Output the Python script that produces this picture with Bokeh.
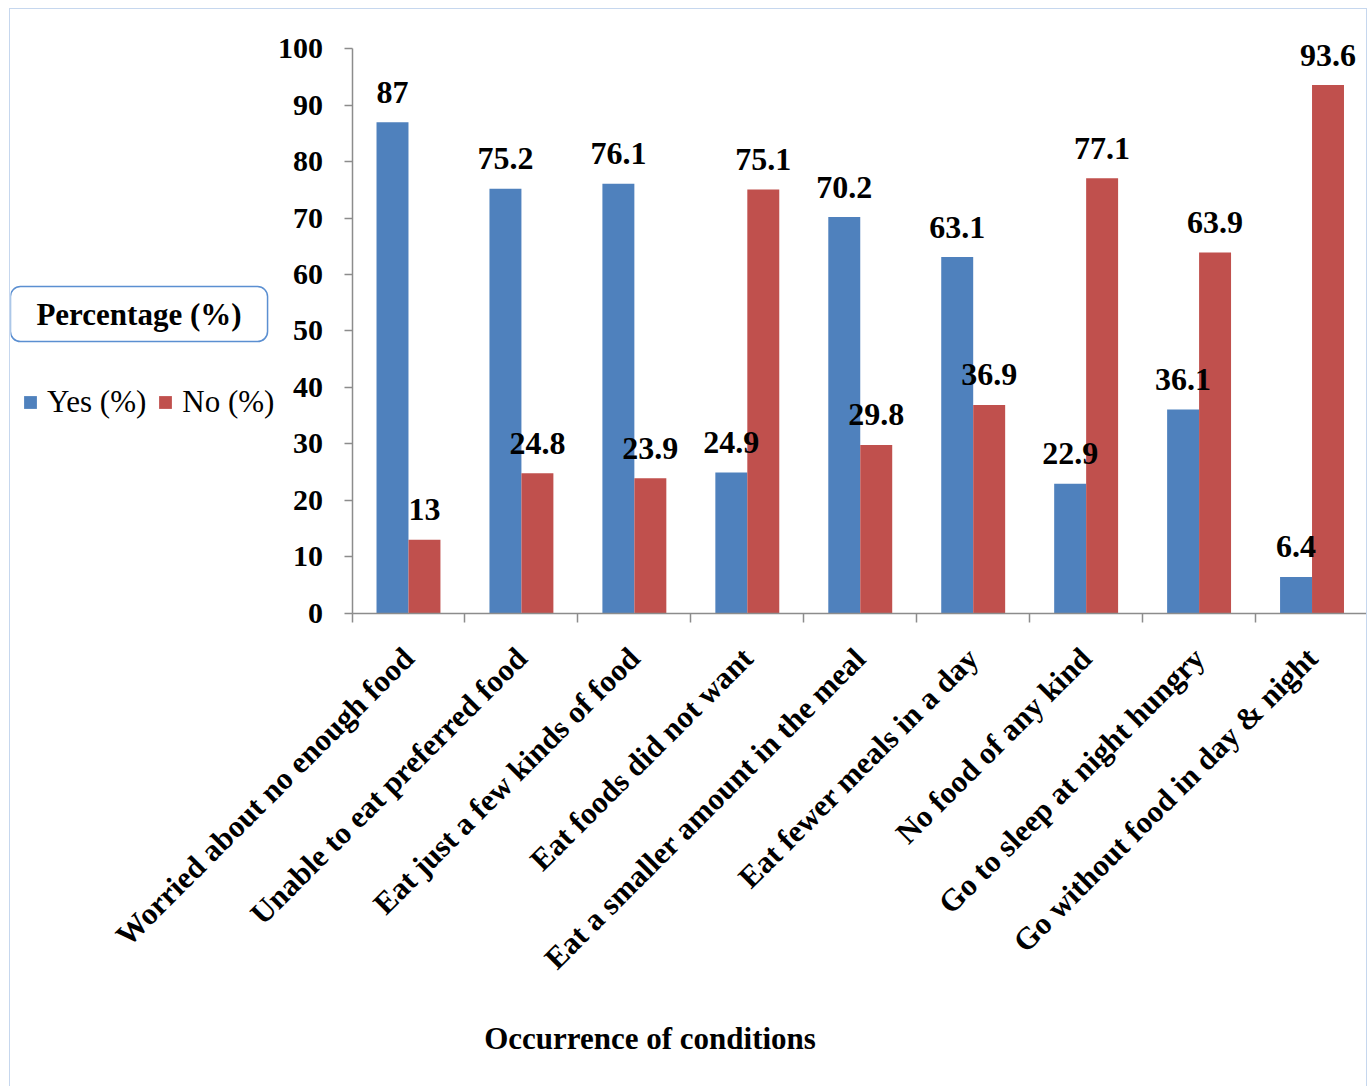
from math import pi

from bokeh.core.properties import value
from bokeh.embed import file_html
from bokeh.models import (ColumnDataSource, FixedTicker, Label, Legend,
                          LegendItem, Range1d)
from bokeh.plotting import figure
from bokeh.resources import INLINE
from bokeh.transform import dodge

# ---- data -------------------------------------------------------------
conditions = [
    "Worried about no enough food",
    "Unable to eat preferred food",
    "Eat just a few kinds of food",
    "Eat foods did not want",
    "Eat a smaller amount in the meal",
    "Eat fewer meals in a day",
    "No food of any kind",
    "Go to sleep at night hungry",
    "Go without food in day & night",
]
yes_pct = [87, 75.2, 76.1, 24.9, 70.2, 63.1, 22.9, 36.1, 6.4]
no_pct = [13, 24.8, 23.9, 75.1, 29.8, 36.9, 77.1, 63.9, 93.6]
y_ticks = [0, 10, 20, 30, 40, 50, 60, 70, 80, 90, 100]
series_names = ["Yes (%)", "No (%)"]
value_title = "Percentage (%)"
category_title = "Occurrence of conditions"

# ---- styling ----------------------------------------------------------
FONT = "Liberation Serif"
BLUE = "#4f81bd"
RED = "#c0504d"
AXIS_GREY = "#8c8c8c"
BORDER_BLUE = "#c6d7ee"
BOX_BLUE = "#5b8fd1"
BAR_W = 0.283

pos = list(range(len(conditions)))
source = ColumnDataSource(dict(
    pos=pos,
    yes=yes_pct,
    no=no_pct,
    yes_label=[f"{v:g}" for v in yes_pct],
    no_label=[f"{v:g}" for v in no_pct],
))

# The frame spans the whole canvas; the axes sit at fixed data locations so
# the legend, the value title box and the category title can share the frame.
p = figure(
    width=1358, height=1080, title=None,
    x_range=Range1d(-3.5237, len(conditions) - 0.5),
    y_range=Range1d(-84.48, 107.0),
    output_backend="svg", toolbar_location=None,
    min_border=0,
    margin=(8, 0, 0, 9),
    styles={"border": f"1.5px solid {BORDER_BLUE}"},
)
p.background_fill_color = "white"
p.border_fill_color = "white"
p.outline_line_color = None
p.xgrid.visible = False
p.ygrid.visible = False

# ---- bars and value labels ---------------------------------------------
yes_r = p.vbar(x=dodge("pos", -BAR_W / 2, range=p.x_range), top="yes", bottom=0,
               width=BAR_W, source=source, fill_color=BLUE, line_color=None)
no_r = p.vbar(x=dodge("pos", BAR_W / 2, range=p.x_range), top="no", bottom=0,
              width=BAR_W, source=source, fill_color=RED, line_color=None)

label_style = dict(source=source, text_align="center", text_baseline="alphabetic",
                   y_offset=-30, text_font=value(FONT), text_font_style="bold",
                   text_font_size="32px", text_color="black")
p.text(x=dodge("pos", -BAR_W / 2, range=p.x_range), y="yes", text="yes_label", **label_style)
p.text(x=dodge("pos", BAR_W / 2, range=p.x_range), y="no", text="no_label", **label_style)

# ---- y axis -----------------------------------------------------------
yax = p.yaxis[0]
yax.fixed_location = -0.5
yax.ticker = FixedTicker(ticks=y_ticks, minor_ticks=[])
yax.bounds = (0, 100)
yax.axis_line_color = AXIS_GREY
yax.axis_line_width = 1.5
yax.major_tick_line_color = AXIS_GREY
yax.major_tick_line_width = 1.5
yax.major_tick_out = 8
yax.major_tick_in = 0
yax.minor_tick_line_color = None
yax.major_label_standoff = 21
yax.major_label_text_font = FONT
yax.major_label_text_font_style = "bold"
yax.major_label_text_font_size = "30px"
yax.major_label_text_color = "black"

# ---- x axis: names at category centres, tick marks at category boundaries --
xax = p.xaxis[0]
xax.fixed_location = 0
xax.ticker = FixedTicker(ticks=pos, minor_ticks=[i - 0.5 for i in range(len(conditions) + 1)])
xax.bounds = (-0.5, len(conditions) - 0.5)
xax.major_label_overrides = {i: name for i, name in zip(pos, conditions)}
xax.major_label_orientation = pi / 4
xax.axis_line_color = AXIS_GREY
xax.axis_line_width = 1.5
xax.major_tick_line_color = None
xax.major_tick_out = 8
xax.major_tick_in = 0
xax.minor_tick_line_color = AXIS_GREY
xax.minor_tick_line_width = 1.5
xax.minor_tick_out = 9
xax.minor_tick_in = 0
xax.major_label_standoff = 31
xax.major_label_text_font = FONT
xax.major_label_text_font_style = "bold"
xax.major_label_text_font_size = "31px"
xax.major_label_text_color = "black"

# ---- titles and legend ---------------------------------------------------
p.add_layout(Label(x=2.1386, y=-75.35, text=category_title,
                   text_align="center", text_baseline="middle",
                   text_font=FONT, text_font_style="bold", text_font_size="31px",
                   text_color="black"))

p.add_layout(Label(x=-2.386, y=53.0, text=value_title,
                   text_align="center", text_baseline="middle",
                   text_font=FONT, text_font_style="bold", text_font_size="31px",
                   text_color="black",
                   border_line_color=BOX_BLUE, border_line_width=1.5,
                   border_radius=10, background_fill_color="white",
                   padding=dict(left=26, right=26, top=10, bottom=10)))

legend = Legend(
    items=[LegendItem(label=series_names[0], renderers=[yes_r]),
           LegendItem(label=series_names[1], renderers=[no_r])],
    orientation="horizontal", location=(12, 669),
    border_line_color=None, background_fill_alpha=0,
    label_text_font=FONT, label_text_font_size="31px", label_text_color="black",
    glyph_width=16, glyph_height=16, label_standoff=9, spacing=11,
    padding=0, margin=0,
)
p.add_layout(legend, "center")

open("out.html", "w").write(file_html(p, INLINE))
